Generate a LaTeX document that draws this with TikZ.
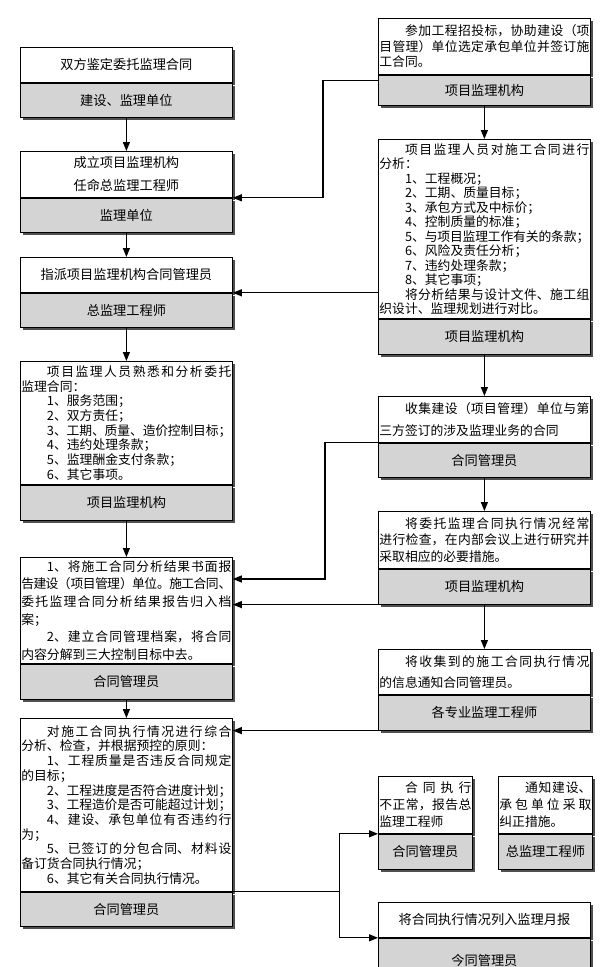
\documentclass[tikz,border=0pt]{standalone}
\usepackage{fontspec}
\setmainfont{Noto Sans CJK SC}
\usetikzlibrary{arrows.meta,shadows}
\XeTeXlinebreaklocale "zh"
\XeTeXlinebreakskip=0pt plus 6pt minus 1pt
\tolerance=9999
\setlength{\parindent}{0pt}
\newcommand{\indsp}{\hspace*{2em}}
\definecolor{rolegray}{RGB}{212,212,212}
\definecolor{shadowgray}{RGB}{80,80,80}

\begin{document}
\begin{tikzpicture}[x=1pt, y=1pt, ->, >={Triangle[length=9pt,width=7pt]}, line width=1.2pt,
    task/.style={draw, line width=0.8pt, fill=white, anchor=north west,
      inner xsep=1pt, inner ysep=0pt, minimum width=212pt, text width=210pt,
      align=justify, font=\fontsize{12.8}{14.6}\selectfont,
      drop shadow={shadow xshift=3pt, shadow yshift=-3pt, fill=shadowgray, opacity=1}},
    leading/.style={font=\fontsize{12.8}{#1}\selectfont},
    head/.style={task, align=flush center, font=\fontsize{13.2}{23}\selectfont},
    role/.style={head, fill=rolegray},
    narrow/.style={minimum width=#1, text width=#1-2pt}]
    \useasboundingbox (0,0) rectangle (603,-967);
    \path
    (20,-47) node[head, minimum height=35pt] (L1) {双方鉴定委托监理合同}
    (L1.south west) node[role, minimum height=34pt] (L1r) {建设、监理单位}
    (20,-151) node[head, minimum height=46pt] (L2) {成立项目监理机构\\任命总监理工程师}
    (L2.south west) node[role, minimum height=34pt] (L2r) {监理单位}
    (20,-257) node[head, minimum height=35pt] (L3) {指派项目监理机构合同管理员}
    (L3.south west) node[role, minimum height=34pt] (L3r) {总监理工程师}
    (20,-361) node[task, leading=14.7pt, minimum height=123pt] (L4) {\indsp 项目监理人员熟悉和分析委托\linebreak 监理合同：\par
      \indsp 1、服务范围；\par
      \indsp 2、双方责任；\par
      \indsp 3、工期、质量、造价控制目标；\par
      \indsp 4、违约处理条款；\par
      \indsp 5、监理酬金支付条款；\par
      \indsp 6、其它事项。}
    (L4.south west) node[role, minimum height=35pt] (L4r) {项目监理机构}
    (20,-557) node[task, leading=17.6pt, minimum height=106pt] (L5) {\indsp 1、将施工合同分析结果书面报\linebreak 告建设（项目管理）单位。施工合同、\linebreak 委托监理合同分析结果报告归入档\linebreak 案；\par
      \indsp 2、建立合同管理档案，将合同\linebreak 内容分解到三大控制目标中去。}
    (L5.south west) node[role, minimum height=35pt] (L5r) {合同管理员}
    (20,-718) node[task, leading=14.7pt, minimum height=173pt] (L6) {\indsp 对施工合同执行情况进行综合\linebreak 分析、检查，并根据预控的原则：\par
      \indsp 1、工程质量是否违反合同规定\linebreak 的目标；\par
      \indsp 2、工程进度是否符合进度计划；\par
      \indsp 3、工程造价是否可能超过计划；\par
      \indsp 4、建设、承包单位有否违约行\linebreak 为；\par
      \indsp 5、已签订的分包合同、材料设\linebreak 备订货合同执行情况；\par
      \indsp 6、其它有关合同执行情况。}
    (L6.south west) node[role, minimum height=34pt] (L6r) {合同管理员};
    \path
    (378,-18) node[task, leading=15.5pt, minimum height=56pt] (R1) {\indsp 参加工程招投标，协助建设（项\linebreak 目管理）单位选定承包单位并签订施\linebreak 工合同。}
    (R1.south west) node[role, minimum height=30pt] (R1r) {项目监理机构}
    (378,-139) node[task, leading=14.5pt, minimum height=179pt] (R2) {\indsp 项目监理人员对施工合同进行\linebreak 分析：\par
      \indsp 1、工程概况；\par
      \indsp 2、工期、质量目标；\par
      \indsp 3、承包方式及中标价；\par
      \indsp 4、控制质量的标准；\par
      \indsp 5、与项目监理工作有关的条款；\par
      \indsp 6、风险及责任分析；\par
      \indsp 7、违约处理条款；\par
      \indsp 8、其它事项；\par
      \indsp 将分析结果与设计文件、施工组\linebreak 织设计、监理规划进行对比。}
    (R2.south west) node[role, minimum height=35pt] (R2r) {项目监理机构}
    (378,-396) node[task, leading=22pt, minimum height=46pt] (R3) {\indsp 收集建设（项目管理）单位与第\linebreak 三方签订的涉及监理业务的合同}
    (R3.south west) node[role, minimum height=34pt] (R3r) {合同管理员}
    (378,-511) node[task, leading=16.3pt, minimum height=57pt] (R4) {\indsp 将委托监理合同执行情况经常\linebreak 进行检查，在内部会议上进行研究并\linebreak 采取相应的必要措施。}
    (R4.south west) node[role, minimum height=35pt] (R4r) {项目监理机构}
    (378,-649) node[task, leading=21pt, minimum height=45pt] (R5) {\indsp 将收集到的施工合同执行情况\linebreak 的信息通知合同管理员。}
    (R5.south west) node[role, minimum height=35pt] (R5r) {各专业监理工程师}
    (378,-776) node[task, narrow=94pt, leading=17pt, minimum height=57pt] (A) {\indsp 合同执行\linebreak 不正常，报告总\linebreak 监理工程师}
    (A.south west) node[role, narrow=94pt, minimum height=35pt] (Ar) {合同管理员}
    (498,-776) node[task, narrow=94pt, leading=17pt, minimum height=57pt] (B) {\indsp 通知建设、\linebreak 承包单位采取\linebreak 纠正措施。}
    (B.south west) node[role, narrow=94pt, minimum height=35pt] (Br) {总监理工程师}
    (378,-902) node[head, minimum height=35pt] (R6) {将合同执行情况列入监理月报}
    (R6.south west) node[role, minimum height=45pt] (R6r) {今同管理员};
    \draw (L1r) -- (L2);
    \draw (L2r) -- (L3);
    \draw (L3r) -- (L4);
    \draw (L4r) -- (L5);
    \draw (L5r) -- (L6);
    \draw (R1r) -- (R2);
    \draw (R2r) -- (R3);
    \draw (R3r) -- (R4);
    \draw (R4r) -- (R5);
    \draw ([yshift=-6pt]R1r.north west) -- ++(-55,0) |- (L2.south east);
    \draw (L3.south east -| R2.west) -- (L3.south east);
    \draw (R3.south west) -- ++(-53,0) |- ([yshift=-22pt]L5.north east);
    \draw (R4r.south west) -- (R4r.south west -| L5.east);
    \draw (R5r.south west) -- (R5r.south west -| L6.east);
    \draw[-] (L6.south east) -- ++(107,0) coordinate (fork);
    \draw (fork) |- (A.south west);
    \draw (fork) |- (R6.south west);
\end{tikzpicture}
\end{document}
